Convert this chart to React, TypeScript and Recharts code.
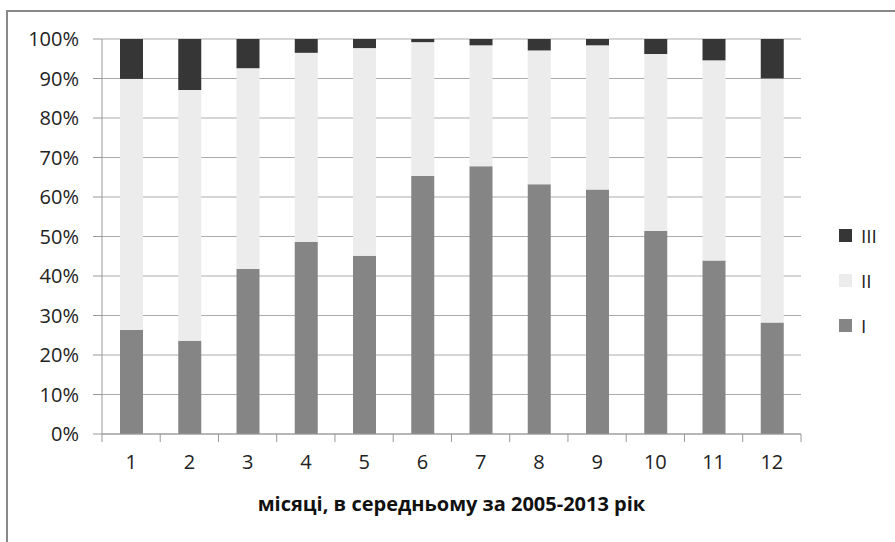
import { Bar, BarChart, CartesianGrid, Legend, XAxis, YAxis } from "recharts"

const months = ["1", "2", "3", "4", "5", "6", "7", "8", "9", "10", "11", "12"]
const seriesI = [26.3, 23.6, 41.8, 48.7, 45.1, 65.3, 67.8, 63.2, 61.9, 51.4, 43.9, 28.2]
const seriesII = [63.6, 63.5, 50.8, 47.8, 52.6, 33.9, 30.6, 33.9, 36.5, 44.8, 50.7, 61.8]
const seriesIII = [10.1, 12.9, 7.4, 3.5, 2.3, 0.8, 1.6, 2.9, 1.6, 3.8, 5.4, 10.0]
const yTicks = [0, 10, 20, 30, 40, 50, 60, 70, 80, 90, 100]

const data = months.map((m, i) => ({ m, I: seriesI[i], II: seriesII[i], III: seriesIII[i] }))

const font = "'Open Sans', sans-serif"
const band = 700 / months.length

function MonthTick(props: any) {
  const { x, y, payload, index } = props
  const left = x - band / 2
  return (
    <g>
      <line x1={left} x2={left} y1={y - 8} y2={y} stroke="#999" />
      {index === months.length - 1 && (
        <line x1={x + band / 2} x2={x + band / 2} y1={y - 8} y2={y} stroke="#999" />
      )}
      <text x={x} y={y + 27} textAnchor="middle" fontSize={20} fontFamily={font} fill="#222">
        {payload.value}
      </text>
    </g>
  )
}

function LegendBox() {
  const items = [
    { name: "III", color: "#363636" },
    { name: "II", color: "#ececec" },
    { name: "I", color: "#858585" },
  ]
  return (
    <div style={{ fontFamily: font, fontSize: 19, color: "#222" }}>
      {items.map((it) => (
        <div key={it.name} style={{ display: "flex", alignItems: "center", height: 45 }}>
          <span style={{ width: 13, height: 13, background: it.color, marginRight: 9 }} />
          <span>{it.name}</span>
        </div>
      ))}
    </div>
  )
}

export default function App() {
  return (
    <div style={{ position: "absolute", left: 0, top: 0, width: 895, height: 542, background: "#fff", overflow: "hidden" }}>
      <div style={{ position: "absolute", left: 6, top: 10, width: 900, height: 600, borderLeft: "2px solid #888", borderTop: "2px solid #888" }} />
      <BarChart width={895} height={542} data={data} margin={{ top: 39, right: 44, bottom: 78, left: 22 }} style={{ position: "absolute", left: 0, top: 0 }}>
        <CartesianGrid vertical={false} stroke="#ababab" />
        <XAxis dataKey="m" height={30} stroke="#999" tickLine={false} tick={<MonthTick />} interval={0} />
        <YAxis
          width={80}
          domain={[0, 100]}
          ticks={yTicks}
          tickFormatter={(v) => v + "%"}
          stroke="#999"
          tickSize={9}
          tickMargin={14}
          tick={{ fontSize: 20, fontFamily: font, fill: "#222" }}
          interval={0}
        />
        <Legend
          layout="vertical"
          verticalAlign="top"
          align="right"
          content={<LegendBox />}
          wrapperStyle={{ position: "absolute", left: 839, top: 213, width: 50 }}
        />
        <Bar dataKey="I" stackId="s" fill="#858585" barSize={23} isAnimationActive={false} />
        <Bar dataKey="II" stackId="s" fill="#ececec" barSize={23} isAnimationActive={false} />
        <Bar dataKey="III" stackId="s" fill="#363636" barSize={23} isAnimationActive={false} />
      </BarChart>
      <div style={{ position: "absolute", left: 102, width: 699, top: 490, textAlign: "center", fontFamily: font, fontWeight: 700, fontSize: 20, color: "#111" }}>
        місяці, в середньому за 2005-2013 рік
      </div>
    </div>
  )
}
